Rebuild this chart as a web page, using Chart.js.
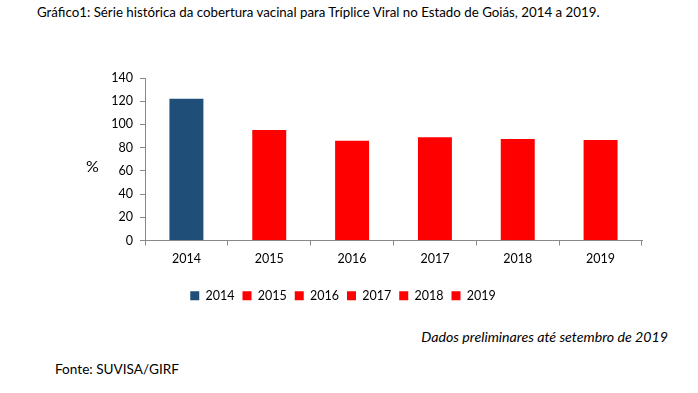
<!DOCTYPE html>
<html>
<head>
<meta charset="utf-8">
<script src="https://cdn.jsdelivr.net/npm/chart.js@4.4.1/dist/chart.umd.min.js"></script>
<style>
    body { margin: 0; background: #fff; font-family: Lato, sans-serif; }
    #wrap { position: relative; width: 698px; height: 393px; overflow: hidden; }
    #chartBox { position: absolute; left: 0; top: 0; width: 698px; height: 312px; }
    .txt { position: absolute; color: #000; white-space: nowrap; }
    #titulo { left: 37px; top: 4px; font-size: 13.3px; }
    #pct { left: 86px; top: 156px; font-size: 16px; }
    #nota { right: 30px; top: 328px; font-size: 14.2px; font-style: italic; }
    #fonte { left: 55px; top: 361px; font-size: 13.6px; }
</style>
</head>
<body>
<div id="wrap">
    <div id="titulo" class="txt">Gráfico1: Série histórica da cobertura vacinal para Tríplice Viral no Estado de Goiás, 2014 a 2019.</div>
    <div id="chartBox"><canvas id="grafico"></canvas></div>
    <div id="pct" class="txt">%</div>
    <div id="nota" class="txt">Dados preliminares até setembro de 2019</div>
    <div id="fonte" class="txt">Fonte: SUVISA/GIRF</div>
</div>
<script>
// Dados do gráfico
const anos = ['2014', '2015', '2016', '2017', '2018', '2019'];
const cobertura = [122.1, 95.2, 86.0, 88.9, 87.4, 86.6];
const cores = ['#1F4E79', '#FF0000', '#FF0000', '#FF0000', '#FF0000', '#FF0000'];
const ticksY = [0, 20, 40, 60, 80, 100, 120, 140];

const fonte = { family: 'Lato, sans-serif', size: 12.5 };

const ctx = document.getElementById('grafico');
new Chart(ctx, {
    type: 'bar',
    data: {
        labels: anos,
        datasets: [{
            data: cobertura,
            backgroundColor: cores,
            borderWidth: 0,
            barPercentage: 0.41,
            categoryPercentage: 1
        }]
    },
    options: {
        responsive: true,
        maintainAspectRatio: false,
        animation: false,
        layout: { padding: { left: 44, right: 56, top: 78, bottom: 0 } },
        scales: {
            x: {
                grid: { display: true, drawOnChartArea: false, drawTicks: true, tickLength: 5, color: '#888' },
                border: { color: '#888' },
                ticks: { color: '#000', font: fonte, padding: 6 },
                afterFit: (scale) => { scale.height = 41; }
            },
            y: {
                min: 0,
                max: 140,
                afterBuildTicks: (scale) => { scale.ticks = ticksY.map(v => ({ value: v })); },
                grid: { display: true, drawOnChartArea: false, drawTicks: true, tickLength: 5, color: '#888' },
                border: { color: '#888' },
                ticks: { color: '#000', font: fonte, padding: 7 },
                afterFit: (scale) => { scale.width = 101; }
            }
        },
        plugins: {
            tooltip: { enabled: false },
            legend: {
                position: 'bottom',
                labels: {
                    color: '#000',
                    font: fonte,
                    boxWidth: 9,
                    boxHeight: 9,
                    padding: 8,
                    generateLabels: () => anos.map((a, i) => ({
                        text: a,
                        fillStyle: cores[i],
                        strokeStyle: cores[i],
                        lineWidth: 0,
                        index: i
                    }))
                }
            }
        }
    }
});
</script>
</body>
</html>
